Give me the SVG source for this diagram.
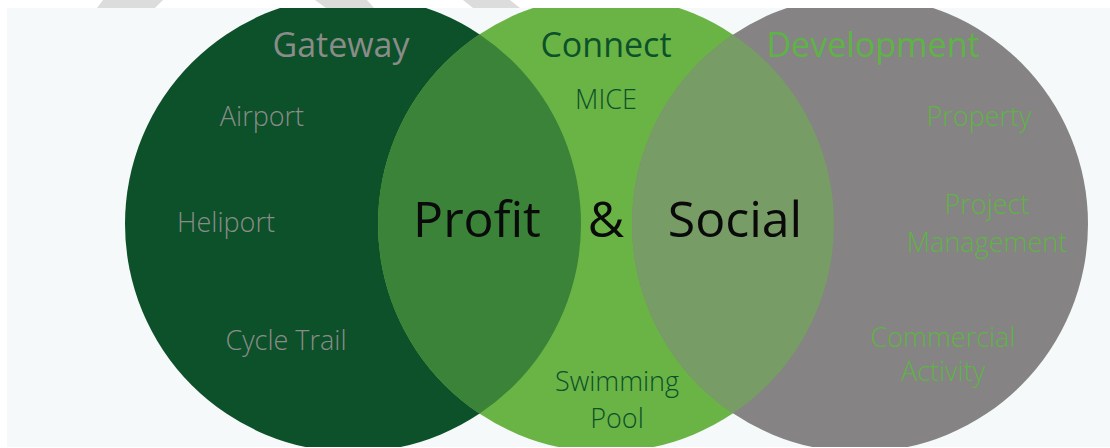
<svg xmlns="http://www.w3.org/2000/svg" width="1110" height="448" viewBox="0 0 1110 448">
  <defs>
    <style>
      .title { font-family: "Open Sans", "Noto Sans", "Liberation Sans", sans-serif; font-size: 34px; font-weight: 400; text-anchor: middle; }
      .item { font-family: "Open Sans", "Noto Sans", "Liberation Sans", sans-serif; font-size: 27px; font-weight: 300; text-anchor: middle; }
      .big { font-family: "Open Sans", "Noto Sans", "Liberation Sans", sans-serif; font-size: 50px; font-weight: 400; text-anchor: middle; fill: #0a0a0a; }
      .gw { fill: #8a8c8a; }
      .cn { fill: #0c5129; }
      .dv { fill: #5fb346; }
      .stripe { fill: #dcdcdc; }
    </style>
    <clipPath id="panel"><rect x="7" y="8" width="1103" height="439"/></clipPath>
    <clipPath id="clipDark"><circle cx="353" cy="224" r="228"/></clipPath>
    <clipPath id="clipGray"><circle cx="860" cy="224" r="228"/></clipPath>
  </defs>

  <rect x="0" y="0" width="1110" height="448" fill="#ffffff"/>
  <rect x="7" y="8" width="1103" height="439" fill="#f5f9fa"/>
  <polygon class="stripe" points="103,0 163,0 155,8 97,8"/>
  <polygon class="stripe" points="315,0 367,0 374,8 326,8"/>
  <polygon class="stripe" points="463,0 510,0 520,8 473,8"/>

  <g clip-path="url(#panel)">
    <g id="gateway">
      <circle cx="353" cy="224" r="228" fill="#0c5129"/>
    </g>
    <g id="connect">
      <circle cx="606" cy="224" r="228" fill="#6ab446"/>
    </g>
    <g id="development">
      <circle cx="860" cy="224" r="228" fill="#858383"/>
    </g>
    <g id="overlaps">
      <circle cx="606" cy="224" r="228" fill="#3b8338" clip-path="url(#clipDark)"/>
      <circle cx="606" cy="224" r="228" fill="#789c65" clip-path="url(#clipGray)"/>
    </g>
  </g>

  <g id="gateway-labels">
    <text class="title gw" x="341" y="57">Gateway</text>
    <text class="item gw" x="262" y="126">Airport</text>
    <text class="item gw" x="226" y="232">Heliport</text>
    <text class="item gw" x="286" y="350">Cycle Trail</text>
  </g>
  <g id="connect-labels">
    <text class="title cn" x="606" y="57">Connect</text>
    <text class="item cn" x="606" y="109">MICE</text>
    <text class="item cn" x="617" y="391">Swimming</text>
    <text class="item cn" x="617" y="428">Pool</text>
  </g>
  <g id="development-labels">
    <text class="title dv" x="873" y="57">Development</text>
    <text class="item dv" x="979" y="126">Property</text>
    <text class="item dv" x="987" y="214">Project</text>
    <text class="item dv" x="987" y="252">Management</text>
    <text class="item dv" x="943" y="347">Commercial</text>
    <text class="item dv" x="943" y="381">Activity</text>
  </g>
  <g id="center-labels">
    <text class="big" x="477" y="237">Profit</text>
    <text class="big" x="606" y="237">&amp;</text>
    <text class="big" x="735" y="237">Social</text>
  </g>
  <g id="connectors"/>
</svg>
